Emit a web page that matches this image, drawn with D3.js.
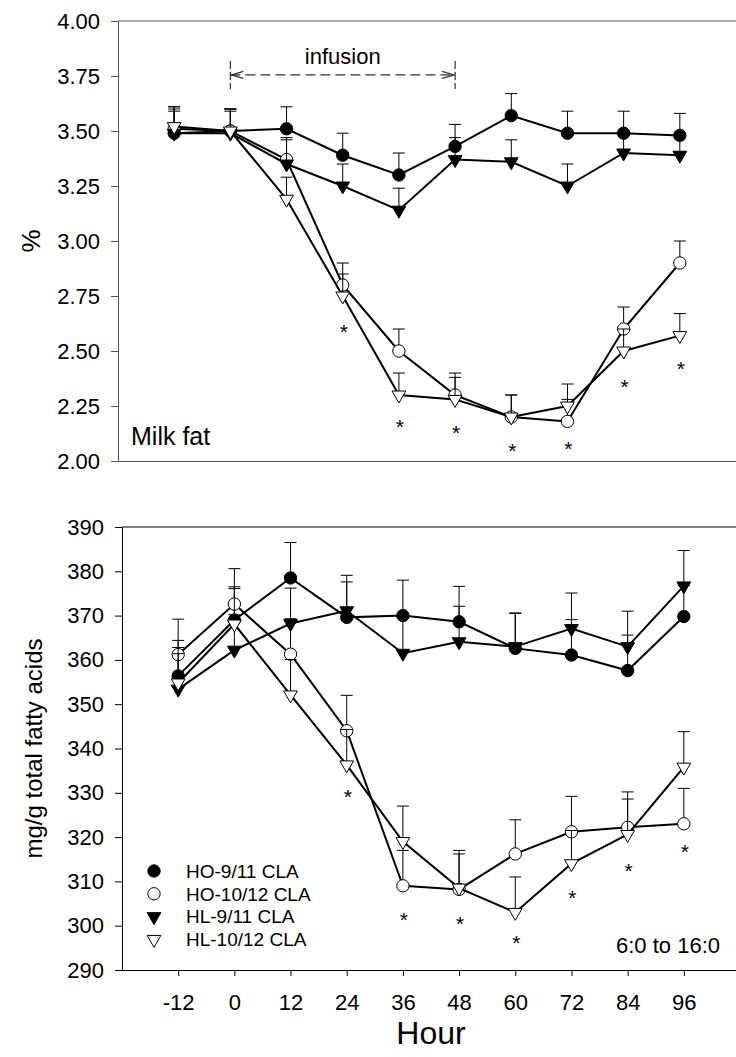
<!DOCTYPE html>
<html>
<head>
<meta charset="utf-8">
<script src="https://cdn.jsdelivr.net/npm/d3@7"></script>
<style>
  body { margin: 0; background: #fff; }
  svg { display: block; font-family: Arial, "Liberation Sans", sans-serif; }
</style>
</head>
<body>
<svg width="736" height="1057"></svg>
<script>
// Sampling times (hour)
const hours = [-12, 0, 12, 24, 36, 48, 60, 72, 84, 96];
const seriesNames = ['HO-9/11 CLA', 'HO-10/12 CLA', 'HL-9/11 CLA', 'HL-10/12 CLA'];

// Milk fat, %
const fatHO911   = [3.49, 3.50, 3.51, 3.39, 3.30, 3.43, 3.57, 3.49, 3.49, 3.48];
const fatHO1012  = [3.51, 3.50, 3.37, 2.80, 2.50, 2.30, 2.20, 2.18, 2.60, 2.90];
const fatHL911   = [3.49, 3.49, 3.35, 3.25, 3.14, 3.37, 3.36, 3.25, 3.40, 3.39];
const fatHL1012  = [3.52, 3.50, 3.19, 2.75, 2.30, 2.28, 2.20, 2.25, 2.50, 2.57];
const fatErrHO911  = [0.11, 0.10, 0.10, 0.10, 0.10, 0.10, 0.10, 0.10, 0.10, 0.10];
const fatErrHO1012 = [0.10, 0.10, 0.10, 0.10, 0.10, 0.10, 0.10, 0.10, 0.10, 0.10];
const fatErrHL911  = [0.10, 0.10, 0.11, 0.10, 0.10, 0.10, 0.10, 0.10, 0.09, 0.09];
const fatErrHL1012 = [0.09, 0.10, 0.10, 0.10, 0.10, 0.10, 0.10, 0.10, 0.10, 0.10];
const fatStarHours = [24, 36, 48, 60, 72, 84, 96];
const fatStarLevel = [2.61, 2.18, 2.15, 2.07, 2.08, 2.36, 2.44];

// 6:0 to 16:0, mg/g total fatty acids
const faHO911   = [356.4, 369.0, 378.5, 369.6, 370.0, 368.6, 362.6, 361.1, 357.6, 369.8];
const faHO1012  = [361.2, 372.6, 361.3, 344.0, 309.0, 308.2, 316.2, 321.2, 322.2, 323.0];
const faHL911   = [353.4, 362.2, 368.2, 371.1, 361.5, 364.1, 363.0, 367.1, 363.0, 376.7];
const faHL1012  = [354.8, 368.1, 352.1, 336.3, 319.0, 308.5, 303.0, 314.0, 320.6, 335.8];
const faErrHO911  = [8, 7.5, 8, 8, 8, 8, 8, 8, 8, 7];
const faErrHO1012 = [8, 8, 8, 8, 8, 8, 7.7, 8, 8, 8];
const faErrHL911  = [8, 8, 8, 8, 8, 8, 7.5, 8, 8, 8];
const faErrHL1012 = [8, 8, 8, 8, 8, 8.5, 8, 7.5, 8, 8];
const faStarHours = [24, 36, 48, 60, 72, 84, 96];
const faStarLevel = [330.2, 302.5, 301.5, 297.2, 307.5, 313.5, 317.8];

// Tick labels
const fatTicks = d3.range(2, 4.001, 0.25);
const faTicks = d3.range(290, 390.1, 10);

// infusion period (hours) and where it sits on the % axis
const infusion = { start: 0, end: 48, level: 3.755, label: 'infusion' };

const svg = d3.select('svg');

const styles = [
  { type: d3.symbolCircle, fill: '#000', rot: 0 },
  { type: d3.symbolCircle, fill: '#fff', rot: 0 },
  { type: d3.symbolTriangle, fill: '#000', rot: 180 },
  { type: d3.symbolTriangle, fill: '#fff', rot: 180 }
];
const symSize = [120, 120, 82, 82];

const panels = [
  {
    left: 118, top: 21, width: 618, height: 440,
    domain: [2, 4], ticks: fatTicks, fmt: d3.format('.2f'),
    values: [fatHO911, fatHO1012, fatHL911, fatHL1012],
    errs: [fatErrHO911, fatErrHO1012, fatErrHL911, fatErrHL1012],
    starHours: fatStarHours, starLevel: fatStarLevel,
    axisColor: '#555', xLabels: false
  },
  {
    left: 122, top: 527, width: 618, height: 443,
    domain: [290, 390], ticks: faTicks, fmt: d3.format('d'),
    values: [faHO911, faHO1012, faHL911, faHL1012],
    errs: [faErrHO911, faErrHO1012, faErrHL911, faErrHL1012],
    starHours: faStarHours, starLevel: faStarLevel,
    axisColor: '#000', xLabels: true
  }
];

panels.forEach((p, pi) => {
  const x = d3.scaleLinear().domain([-24, 108]).range([p.left, p.left + p.width]);
  const y = d3.scaleLinear().domain(p.domain).range([p.top + p.height, p.top]);
  p.x = x; p.y = y;

  const g = svg.append('g');

  // top frame line
  g.append('line')
    .attr('x1', x(-24)).attr('x2', x(108))
    .attr('y1', y(p.domain[1])).attr('y2', y(p.domain[1]))
    .attr('stroke', p.axisColor).attr('stroke-width', 1);

  // y axis
  const ya = g.append('g')
    .attr('transform', `translate(${x(-24)},0)`)
    .call(d3.axisLeft(y).tickValues(p.ticks).tickFormat(p.fmt)
      .tickSize(7).tickPadding(11).tickSizeOuter(0));
  ya.select('.domain').attr('stroke', p.axisColor);
  ya.selectAll('.tick line').attr('stroke', p.axisColor);
  ya.selectAll('.tick text')
    .attr('font-size', 22).attr('fill', '#000')
    .attr('font-family', 'Arial, "Liberation Sans", sans-serif');

  // x axis: only the lower panel carries ticks and labels (hyphen minus as in the original)
  const xa = g.append('g')
    .attr('transform', `translate(0,${y(p.domain[0])})`)
    .call(d3.axisBottom(x).tickValues(p.xLabels ? hours : [])
      .tickFormat(d => String(d))
      .tickSize(6).tickPadding(18).tickSizeOuter(0));
  xa.select('.domain').attr('stroke', p.axisColor);
  xa.selectAll('.tick line').attr('stroke', p.axisColor);
  xa.selectAll('.tick text')
    .attr('font-size', 22).attr('fill', '#000')
    .attr('font-family', 'Arial, "Liberation Sans", sans-serif');

  const line = d3.line().x((d, i) => x(hours[i])).y(d => y(d));

  p.values.forEach((vals, si) => {
    const sg = g.append('g');
    const errs = p.errs[si];

    // error bars (upper side only)
    sg.selectAll('line.stem').data(vals).enter().append('line')
      .attr('x1', (d, i) => x(hours[i])).attr('x2', (d, i) => x(hours[i]))
      .attr('y1', d => y(d)).attr('y2', (d, i) => y(d + errs[i]))
      .attr('stroke', '#000').attr('stroke-width', 1);
    sg.selectAll('line.cap').data(vals).enter().append('line')
      .attr('x1', (d, i) => x(hours[i]) - 6).attr('x2', (d, i) => x(hours[i]) + 6)
      .attr('y1', (d, i) => y(d + errs[i])).attr('y2', (d, i) => y(d + errs[i]))
      .attr('stroke', '#000').attr('stroke-width', 1);

    sg.append('path').datum(vals)
      .attr('d', line)
      .attr('fill', 'none').attr('stroke', '#000').attr('stroke-width', 2);

    const st = styles[si];
    sg.selectAll('path.sym').data(vals).enter().append('path')
      .attr('d', d3.symbol().type(st.type).size(symSize[si]))
      .attr('transform', (d, i) => `translate(${x(hours[i])},${y(d)}) rotate(${st.rot})`)
      .attr('fill', st.fill).attr('stroke', '#000').attr('stroke-width', 1);
  });

  // significance marks
  g.selectAll('text.star').data(p.starLevel).enter().append('text')
    .attr('x', (d, i) => x(p.starHours[i]) + 1)
    .attr('y', d => y(d))
    .attr('dy', '0.58em')
    .attr('text-anchor', 'middle')
    .attr('font-size', 21)
    .text('*');
});

// infusion annotation on the top panel
{
  const p = panels[0];
  const x = p.x, y = p.y;
  const x0 = x(infusion.start), x1 = x(infusion.end), yy = y(infusion.level);
  const a = svg.append('g').attr('stroke', '#333').attr('stroke-width', 1.2).attr('fill', 'none');
  a.append('line').attr('x1', x0).attr('x2', x1).attr('y1', yy).attr('y2', yy)
    .attr('stroke-dasharray', '10,5');
  [x0, x1].forEach(xx => {
    a.append('line').attr('x1', xx).attr('x2', xx).attr('y1', yy - 14).attr('y2', yy + 14)
      .attr('stroke-dasharray', '8,3');
  });
  a.append('path').attr('d', `M${x0 + 13},${yy - 3.5}L${x0 + 1},${yy}L${x0 + 13},${yy + 3.5}`);
  a.append('path').attr('d', `M${x1 - 13},${yy - 3.5}L${x1 - 1},${yy}L${x1 - 13},${yy + 3.5}`);
  svg.append('text')
    .attr('x', (x0 + x1) / 2).attr('y', yy - 11)
    .attr('text-anchor', 'middle').attr('font-size', 22)
    .text(infusion.label);

  svg.append('text')
    .attr('x', p.left + 13).attr('y', p.top + p.height - 16)
    .attr('font-size', 25).text('Milk fat');

  svg.append('text')
    .attr('transform', `translate(40,${p.top + p.height / 2}) rotate(-90)`)
    .attr('text-anchor', 'middle').attr('font-size', 26).text('%');
}

// bottom panel labels and legend
{
  const p = panels[1];
  svg.append('text')
    .attr('transform', `translate(42,${p.top + p.height / 2}) rotate(-90)`)
    .attr('text-anchor', 'middle').attr('font-size', 24).text('mg/g total fatty acids');

  svg.append('text')
    .attr('x', 720).attr('y', p.top + p.height - 17)
    .attr('text-anchor', 'end').attr('font-size', 22).text('6:0 to 16:0');

  svg.append('text')
    .attr('x', p.x(42)).attr('y', 1044)
    .attr('text-anchor', 'middle').attr('font-size', 32).text('Hour');

  const leg = svg.append('g').attr('transform', 'translate(154,871)');
  const rows = leg.selectAll('g').data(seriesNames).enter().append('g')
    .attr('transform', (d, i) => `translate(0,${i * 22.8})`);
  rows.append('path')
    .attr('d', (d, i) => d3.symbol().type(styles[i].type).size(symSize[i])())
    .attr('transform', (d, i) => `rotate(${styles[i].rot})`)
    .attr('fill', (d, i) => styles[i].fill).attr('stroke', '#000').attr('stroke-width', 1);
  rows.append('text')
    .attr('x', 32).attr('dy', '0.36em')
    .attr('font-size', 19).text(d => d);
}
</script>
</body>
</html>
